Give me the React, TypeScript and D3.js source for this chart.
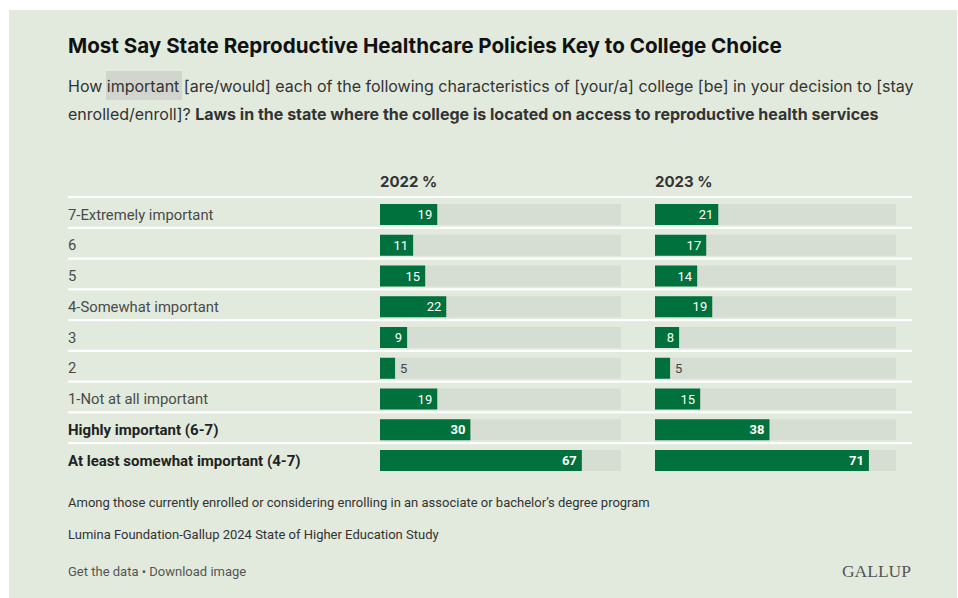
import React from "react";
import * as d3 from "d3";

const categories = [
  "7-Extremely important",
  "6",
  "5",
  "4-Somewhat important",
  "3",
  "2",
  "1-Not at all important",
  "Highly important (6-7)",
  "At least somewhat important (4-7)",
];
const boldRows = [false, false, false, false, false, false, false, true, true];
const values2022 = [19, 11, 15, 22, 9, 5, 19, 30, 67];
const values2023 = [21, 17, 14, 19, 8, 5, 15, 38, 71];
const seriesNames = ["2022 %", "2023 %"];

const title = "Most Say State Reproductive Healthcare Policies Key to College Choice";
const note1 = "Among those currently enrolled or considering enrolling in an associate or bachelor\u2019s degree program";
const note2 = "Lumina Foundation-Gallup 2024 State of Higher Education Study";
const links = "Get the data \u2022 Download image";

const W = 958;
const H = 598;
const GREEN = "#00703c";
const TRACK = "#d6ddd2";
const BG = "#e1eadd";
const TEXT = "#333333";
const FONT = "Roboto, 'Liberation Sans', sans-serif";
const HEAD_FONT = "Inter, Roboto, sans-serif";

export default function App() {
  const y = d3
    .scaleBand<number>()
    .domain(d3.range(categories.length))
    .range([197, 197 + 30.75 * categories.length])
    .paddingInner(0)
    .paddingOuter(0);
  const colStarts = [380, 655];
  const trackW = 241;
  const xs = colStarts.map((s) => d3.scaleLinear().domain([0, 80]).range([s, s + trackW]));
  const series = [values2022, values2023];
  const barOffset = 7;
  const barH = 21;

  return (
    <svg
      width={W}
      height={H}
      style={{ position: "absolute", left: 0, top: 0, background: "#fff" }}
      fontFamily={FONT}
    >
      <rect x={9} y={10} width={948} height={H - 10} fill={BG} />
      <text x={68} y={52.5} fontSize={20.6} fontWeight={700} fill="#111" fontFamily={HEAD_FONT}>
        {title}
      </text>
      <rect x={106} y={71} width={76} height={29} fill="#d2d5ce" />
      <text x={68} y={91.5} fontSize={16} fill={TEXT} fontFamily={HEAD_FONT}>
        How important [are/would] each of the following characteristics of [your/a] college [be] in your decision to [stay
      </text>
      <text x={68} y={119.5} fontSize={16} fill={TEXT} fontFamily={HEAD_FONT}>
        enrolled/enroll]?{" "}
        <tspan fontWeight={700}>Laws in the state where the college is located on access to reproductive health services</tspan>
      </text>

      {seriesNames.map((s, i) => (
        <text key={s} x={colStarts[i]} y={186.5} fontSize={15} fontWeight={700} fill={TEXT} fontFamily={HEAD_FONT}>
          {s}
        </text>
      ))}

      {categories.map((c, i) => {
        const top = y(i)!;
        return (
          <g key={c}>
            <rect x={68} y={top - 1} width={844} height={2.2} fill="#ffffff" />
            <text
              x={68}
              y={top + barOffset + barH / 2}
              dy="0.35em"
              fontSize={boldRows[i] ? 15 : 14.8}
              fontWeight={boldRows[i] ? 700 : 400}
              fill={boldRows[i] ? "#222" : "#4a4a4a"}
            >
              {c}
            </text>
            {series.map((vals, j) => {
              const x = xs[j];
              const v = vals[i];
              const end = x(v);
              const inside = v >= 8;
              return (
                <g key={j}>
                  <rect x={x(0)} y={top + barOffset} width={trackW} height={barH} fill={TRACK} />
                  <rect x={x(0)} y={top + barOffset} width={end - x(0)} height={barH} fill={GREEN} />
                  <text
                    x={inside ? end - 5 : end + 5}
                    y={top + barOffset + barH / 2}
                    dy="0.36em"
                    fontSize={13}
                    fontWeight={boldRows[i] ? 700 : 400}
                    textAnchor={inside ? "end" : "start"}
                    fill={inside ? "#ffffff" : "#444"}
                  >
                    {v}
                  </text>
                </g>
              );
            })}
          </g>
        );
      })}

      <text x={68} y={507} fontSize={13} fill={TEXT}>
        {note1}
      </text>
      <text x={68} y={539} fontSize={13} fill={TEXT}>
        {note2}
      </text>
      <text x={68} y={576} fontSize={13} fill="#555">
        {links}
      </text>
      <text
        x={911}
        y={577}
        fontSize={17.5}
        textAnchor="end"
        fill="#555"
        fontFamily="'Liberation Serif', 'DejaVu Serif', serif"
      >
        GALLUP
      </text>
    </svg>
  );
}
